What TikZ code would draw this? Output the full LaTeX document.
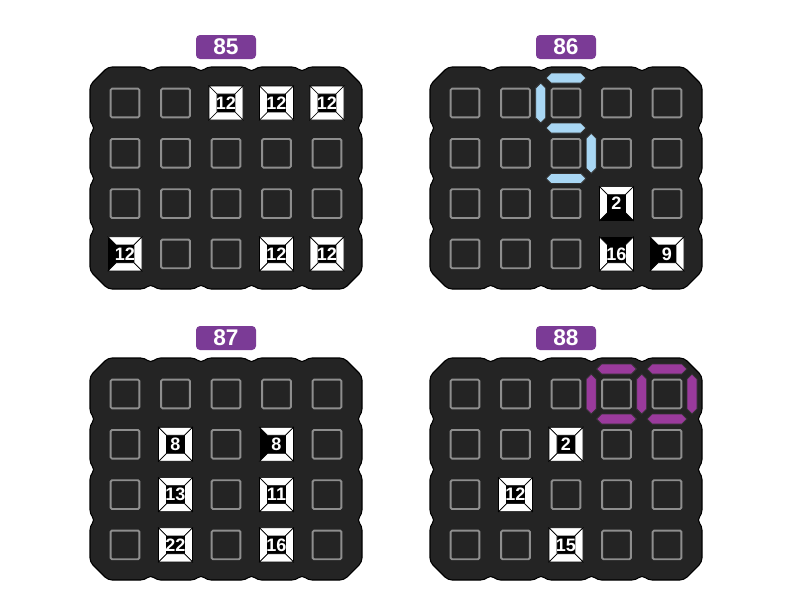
\documentclass[tikz,border=0pt]{standalone}
\usepackage{fontspec}
\setmainfont{Liberation Sans}
\usepackage{tikz}
\usetikzlibrary{positioning}
\definecolor{tagpurple}{HTML}{7B3B96}
\definecolor{boardblack}{HTML}{242424}
\definecolor{cellgray}{HTML}{8E8E8E}
\definecolor{segblue}{HTML}{A9D7F4}
\definecolor{segpurple}{HTML}{9A3A9C}
\tikzset{
  board/.style={fill=boardblack,draw=black,line width=0.8pt,rounded corners=3pt},
  tag/.style={rectangle,rounded corners=3pt,fill=tagpurple,text=white,
    font=\fontsize{17}{17}\selectfont\bfseries,minimum width=45pt,minimum height=18pt,inner sep=0pt},
  cellbox/.style={rectangle,draw=cellgray,line width=1.4pt,rounded corners=1pt,
    minimum size=21.5pt,inner sep=0pt},
  clue/.style={text=white,font=\fontsize{13.5}{13.5}\selectfont\bfseries,inner sep=0pt},
  wall/.style={fill=white,draw=black,line width=0.5pt},
  seg/.style={draw=black!80,line width=0.6pt}
}
% walls of a clue cell
\newcommand\wallT{\filldraw[wall] (-17,-17) -- (17,-17) -- (9,-9) -- (-9,-9) -- cycle;}
\newcommand\wallB{\filldraw[wall] (-17,17) -- (17,17) -- (9,9) -- (-9,9) -- cycle;}
\newcommand\wallL{\filldraw[wall] (-17,-17) -- (-17,17) -- (-9,9) -- (-9,-9) -- cycle;}
\newcommand\wallR{\filldraw[wall] (17,-17) -- (17,17) -- (9,9) -- (9,-9) -- cycle;}
\newcommand\drawclue[5]{%
  \begin{scope}[shift={(b#1-#2-#3.center)}]
    \fill[boardblack] (-18,-18) rectangle (18,18);
    \fill[black] (-17,-17) rectangle (17,17);
    \foreach \s in {#4} {\csname wall\s\endcsname}
    \node[clue] (n#1-#2-#3) at (0,0) {#5};
  \end{scope}}
% display segments
\newcommand\hseg[3]{\filldraw[seg,fill=#3,shift={(#1,#2)}] (-20,0) -- (-15,-5) -- (15,-5) -- (20,0) -- (15,5) -- (-15,5) -- cycle;}
\newcommand\vseg[3]{\filldraw[seg,fill=#3,shift={(#1,#2)}] (0,-20) -- (5,-15) -- (5,15) -- (0,20) -- (-5,15) -- (-5,-15) -- cycle;}

\begin{document}
\begin{tikzpicture}[x=0.75pt,y=-0.75pt]
  \fill[white] (0,0) rectangle (794,614);
  \useasboundingbox (0,0) rectangle (794,614);
  \foreach \bx/\by/\num in {90/67/85, 430/67/86, 90/358/87, 430/358/88} {
    \begin{scope}[shift={(\bx,\by)}]
      \draw[board] (0,18) -- (18,0) -- (54.7,0) -- (60.7,5) -- (66.7,0) -- (105,0) -- (111,5) -- (117,0)
        -- (155.5,0) -- (161.5,5) -- (167.5,0) -- (206,0) -- (212,5) -- (218,0) -- (254,0) -- (272,18)
        -- (272,55) -- (267,61) -- (272,67) -- (272,105.5) -- (267,111.5) -- (272,117.5)
        -- (272,156) -- (267,162) -- (272,168) -- (272,204) -- (254,222)
        -- (218,222) -- (212,217) -- (206,222) -- (167.5,222) -- (161.5,217) -- (155.5,222)
        -- (117,222) -- (111,217) -- (105,222) -- (66.7,222) -- (60.7,217) -- (54.7,222) -- (18,222)
        -- (0,204) -- (0,168) -- (5,162) -- (0,156) -- (0,117.5) -- (5,111.5) -- (0,105.5)
        -- (0,67) -- (5,61) -- (0,55) -- cycle;
      \node[tag] (tag\num) at (136,-20) {\num};
      \foreach \r in {1,...,4}
        \foreach \c in {1,...,5}
          \node[cellbox] (b\num-\r-\c) at ({35+50.5*(\c-1)},{36+50.3*(\r-1)}) {};
    \end{scope}
  }
  % board 85
  \drawclue{85}{1}{3}{T,R,B,L}{12}
  \drawclue{85}{1}{4}{T,R,B,L}{12}
  \drawclue{85}{1}{5}{T,R,B,L}{12}
  \drawclue{85}{4}{1}{T,R,B}{12}
  \drawclue{85}{4}{4}{T,R,B,L}{12}
  \drawclue{85}{4}{5}{T,R,B,L}{12}
  % board 86
  \drawclue{86}{3}{4}{T,L,R}{2}
  \drawclue{86}{4}{4}{L,B,R}{16}
  \drawclue{86}{4}{5}{T,R,B}{9}
  \begin{scope}[shift={(430,67)}]
    \hseg{136}{11}{segblue}
    \vseg{110.7}{36}{segblue}
    \hseg{136}{61}{segblue}
    \vseg{161.2}{86.3}{segblue}
    \hseg{136}{111.5}{segblue}
  \end{scope}
  % board 88
  \drawclue{88}{2}{3}{T,R,B,L}{2}
  \drawclue{88}{3}{2}{T,R,B,L}{12}
  \drawclue{88}{4}{3}{T,R,B,L}{15}
  \begin{scope}[shift={(430,358)}]
    \hseg{186.5}{11}{segpurple}
    \hseg{237}{11}{segpurple}
    \vseg{161.2}{36}{segpurple}
    \vseg{211.7}{36}{segpurple}
    \vseg{262}{36}{segpurple}
    \hseg{186.5}{61}{segpurple}
    \hseg{237}{61}{segpurple}
  \end{scope}
  % board 87
  \drawclue{87}{2}{2}{T,R,B,L}{8}
  \drawclue{87}{2}{4}{T,R,B}{8}
  \drawclue{87}{3}{2}{T,R,B,L}{13}
  \drawclue{87}{3}{4}{T,R,B,L}{11}
  \drawclue{87}{4}{2}{T,R,B,L}{22}
  \drawclue{87}{4}{4}{T,R,B,L}{16}
\end{tikzpicture}
\end{document}
